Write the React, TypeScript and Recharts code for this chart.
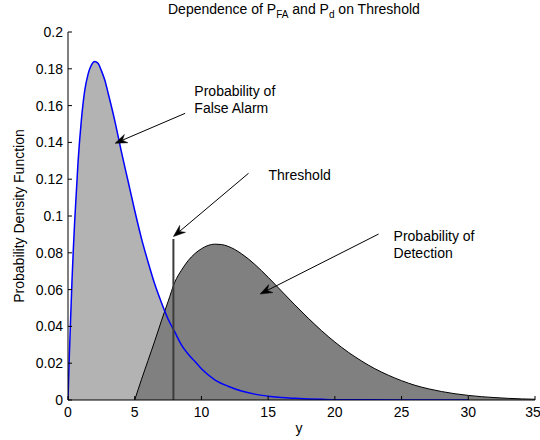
import React from 'react';
import {
  ComposedChart,
  Area,
  Line,
  XAxis,
  YAxis,
  ReferenceLine,
  ReferenceDot,
} from 'recharts';

// Noise-only density (probability of false alarm region)
const falseAlarmY = [
  0, 0.05, 0.1, 0.2, 0.3, 0.4, 0.5, 0.75, 1, 1.25, 1.5, 1.75, 2, 2.25, 2.5, 2.75, 3,
  3.5, 4, 4.5, 5, 5.5, 6, 6.5, 7, 7.5, 8, 8.5, 9, 9.5, 10, 11, 12, 13, 14, 15, 16,
  17, 18, 19, 20, 22, 25, 30,
];
const falseAlarmPdf = [
  0, 0.012, 0.024, 0.045, 0.065, 0.082, 0.097, 0.129, 0.152, 0.168, 0.177, 0.182,
  0.184, 0.183, 0.179, 0.174, 0.167, 0.152, 0.135, 0.119, 0.103, 0.088, 0.075, 0.063,
  0.053, 0.044, 0.037, 0.03, 0.025, 0.021, 0.017, 0.011, 0.0075, 0.0049, 0.0032,
  0.0021, 0.0013, 0.0009, 0.0006, 0.0004, 0.0002, 0.0001, 0, 0,
];

// Signal-plus-noise density (probability of detection region)
const detectionY = [
  5, 5.5, 6, 6.5, 7, 7.5, 8, 8.5, 9, 9.5, 10, 10.5, 11, 11.5, 12, 12.5, 13, 13.5, 14,
  15, 16, 17, 18, 19, 20, 21, 22, 23, 24, 25, 26, 27, 28, 29, 30, 31, 32, 33, 34, 35,
];
const detectionPdf = [
  0, 0.011, 0.0215, 0.032, 0.043, 0.0535, 0.064, 0.0705, 0.0757, 0.0795, 0.0822,
  0.084, 0.0847, 0.0845, 0.0835, 0.0818, 0.0795, 0.0768, 0.0737, 0.0667, 0.0592,
  0.0517, 0.0445, 0.0377, 0.0315, 0.026, 0.0212, 0.017, 0.0135, 0.0105, 0.008,
  0.0061, 0.0046, 0.0034, 0.0025, 0.0018, 0.0013, 0.0009, 0.0006, 0.0004,
];

const thresholdY = 7.9;
const thresholdTop = 0.0875;

const xTicks = [0, 5, 10, 15, 20, 25, 30, 35];
const yTicks = [0, 0.02, 0.04, 0.06, 0.08, 0.1, 0.12, 0.14, 0.16, 0.18, 0.2];
const yTickLabels = ['0', '0.02', '0.04', '0.06', '0.08', '0.1', '0.12', '0.14', '0.16', '0.18', '0.2'];

// Annotation arrows: tail -> head, in data units
const arrows = [
  { tail: { x: 8.78, y: 0.1558 }, head: { x: 3.53, y: 0.1395 } },
  { tail: { x: 13.53, y: 0.1232 }, head: { x: 7.9, y: 0.0888 } },
  { tail: { x: 23.28, y: 0.0902 }, head: { x: 14.4, y: 0.0576 } },
];
// Annotation texts: anchor (first baseline) in data units
const notes = [
  { x: 9.47, y: 0.1652, lines: ['Probability of', 'False Alarm'] },
  { x: 15.03, y: 0.1196, lines: ['Threshold'] },
  { x: 24.4, y: 0.0864, lines: ['Probability of', 'Detection'] },
];

type Row = { y: number; fa?: number; det?: number };
const rows: Row[] = (() => {
  const map = new Map<number, Row>();
  falseAlarmY.forEach((v, i) => {
    const r = map.get(v) || { y: v };
    r.fa = falseAlarmPdf[i];
    map.set(v, r);
  });
  detectionY.forEach((v, i) => {
    const r = map.get(v) || { y: v };
    r.det = detectionPdf[i];
    map.set(v, r);
  });
  return Array.from(map.values()).sort((a, b) => a.y - b.y);
})();

const FONT = '"Liberation Sans", Arial, Helvetica, sans-serif';
const FS = 14;

function ArrowShape(props: any) {
  const { x1, y1, x2, y2 } = props;
  const dx = x2 - x1;
  const dy = y2 - y1;
  const len = Math.hypot(dx, dy) || 1;
  const ux = dx / len;
  const uy = dy / len;
  const px = -uy;
  const py = ux;
  const headLen = 12;
  const half = 4.5;
  const notch = 8;
  const bx = x2 - ux * headLen;
  const by = y2 - uy * headLen;
  const nx = x2 - ux * notch;
  const ny = y2 - uy * notch;
  const pts = [
    [x2, y2],
    [bx + px * half, by + py * half],
    [nx, ny],
    [bx - px * half, by - py * half],
  ]
    .map((p) => p.join(','))
    .join(' ');
  return (
    <g>
      <line x1={x1} y1={y1} x2={nx} y2={ny} stroke="#000" strokeWidth={1} />
      <polygon points={pts} fill="#000" stroke="#000" strokeWidth={0.5} />
    </g>
  );
}

function makeNote(lines: string[]) {
  return (props: any) => {
    const { cx, cy } = props;
    return (
      <text x={cx} y={cy} fontFamily={FONT} fontSize={FS} fill="#000">
        {lines.map((t, i) => (
          <tspan key={i} x={cx} dy={i === 0 ? 0 : 17}>
            {t}
          </tspan>
        ))}
      </text>
    );
  };
}

export default function App() {
  return (
    <div
      style={{
        position: 'absolute',
        left: 0,
        top: 0,
        width: 540,
        height: 440,
        background: '#fff',
      }}
    >
      <ComposedChart
        width={540}
        height={440}
        data={rows}
        margin={{ top: 32, right: 5, bottom: 0, left: 0 }}
      >
        <XAxis
          dataKey="y"
          type="number"
          domain={[0, 35]}
          ticks={xTicks}
          height={40}
          allowDataOverflow
          stroke="#000"
          tickSize={-4}
          tickMargin={11}
          tick={{ fill: '#000', fontSize: FS, fontFamily: FONT }}
        />
        <YAxis
          type="number"
          domain={[0, 0.2]}
          ticks={yTicks}
          width={68}
          allowDataOverflow
          stroke="#000"
          tickSize={-4}
          tickMargin={9}
          tickFormatter={(v: number) => yTickLabels[yTicks.indexOf(v)] ?? String(v)}
          tick={{ fill: '#000', fontSize: FS, fontFamily: FONT }}
        />
        <Area
          dataKey="fa"
          type="monotone"
          fill="#b3b3b3"
          fillOpacity={1}
          stroke="none"
          connectNulls
          isAnimationActive={false}
          dot={false}
          activeDot={false}
        />
        <Area
          dataKey="det"
          type="monotone"
          fill="#808080"
          fillOpacity={1}
          stroke="#000"
          strokeWidth={1}
          connectNulls
          isAnimationActive={false}
          dot={false}
          activeDot={false}
        />
        <Line
          dataKey="fa"
          type="monotone"
          stroke="#0000ff"
          strokeWidth={1.5}
          connectNulls
          isAnimationActive={false}
          dot={false}
          activeDot={false}
        />
        <ReferenceLine
          segment={[
            { x: thresholdY, y: 0 },
            { x: thresholdY, y: thresholdTop },
          ]}
          stroke="#3c3c3c"
          strokeWidth={2}
        />
        {arrows.map((a, i) => (
          <ReferenceLine
            key={`arrow-${i}`}
            segment={[a.tail, a.head]}
            shape={(p: any) => <ArrowShape {...p} />}
          />
        ))}
        {notes.map((n, i) => (
          <ReferenceDot
            key={`note-${i}`}
            x={n.x}
            y={n.y}
            r={0}
            shape={makeNote(n.lines)}
          />
        ))}
      </ComposedChart>
      <svg
        width={540}
        height={440}
        style={{ position: 'absolute', left: 0, top: 0, pointerEvents: 'none' }}
      >
        <text x={168} y={14} fontFamily={FONT} fontSize={FS} fill="#000">
          Dependence of P
          <tspan fontSize={10} dy={4}>FA</tspan>
          <tspan dy={-4}> and P</tspan>
          <tspan fontSize={10} dy={4}>d</tspan>
          <tspan dy={-4}> on Threshold</tspan>
        </text>
        <text
          x={0}
          y={0}
          transform="translate(24,216) rotate(-90)"
          textAnchor="middle"
          fontFamily={FONT}
          fontSize={FS}
          fill="#000"
        >
          Probability Density Function
        </text>
        <text x={299} y={433} textAnchor="middle" fontFamily={FONT} fontSize={FS} fill="#000">
          y
        </text>
      </svg>
    </div>
  );
}
